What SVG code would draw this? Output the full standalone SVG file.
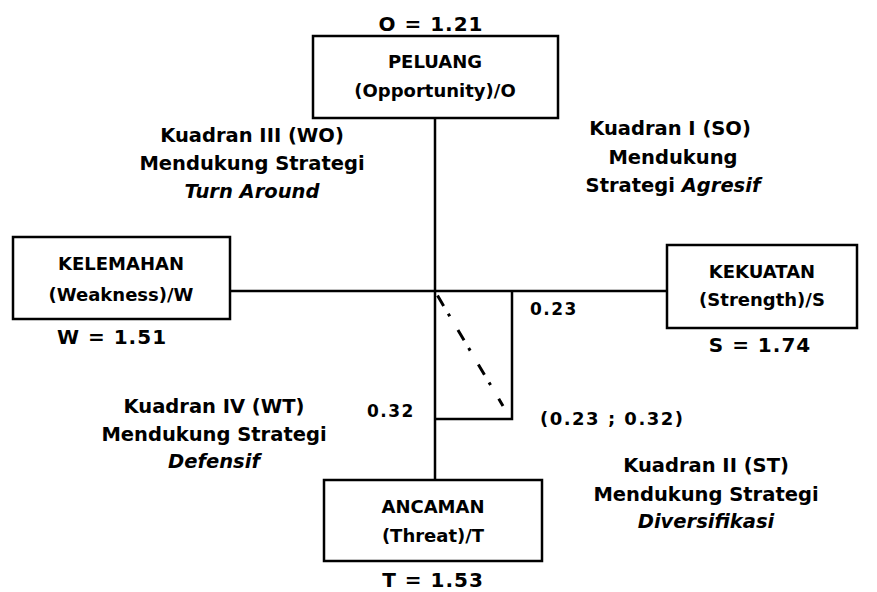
<svg xmlns="http://www.w3.org/2000/svg" width="877" height="592" viewBox="0 0 877 592">
<style>
.box{fill:#fff;stroke:#000;stroke-width:2.5}
.ln{stroke:#000;stroke-width:2.5;fill:none}
.bt{font-family:"DejaVu Sans",sans-serif;font-weight:700;font-size:18px;text-anchor:middle;fill:#000}
.val{font-family:"DejaVu Sans",sans-serif;font-weight:700;font-size:20px;text-anchor:middle;letter-spacing:1px;fill:#000}
.q{font-family:"DejaVu Sans",sans-serif;font-weight:700;font-size:19.5px;text-anchor:middle;fill:#000}
.num{font-family:"DejaVu Sans",sans-serif;font-weight:700;font-size:17px;fill:#000;letter-spacing:1.5px}
.wide{font-size:18px;letter-spacing:1.5px}
.it{font-style:italic}
</style>
<rect width="877" height="592" fill="#fff"/>
<g id="connectors">
<line class="ln" x1="435" y1="118" x2="435" y2="481"/>
<line class="ln" x1="230" y1="291" x2="667" y2="291"/>
<polyline class="ln" points="512,291 512,419 435,419"/>
<line x1="436" y1="293" x2="503" y2="406" stroke="#000" stroke-width="3" stroke-dasharray="12,9,3,16" stroke-dashoffset="37"/>
</g>
<g id="peluang">
<rect class="box" x="313" y="36" width="245" height="82"/>
<text class="bt" x="435" y="68">PELUANG</text>
<text class="bt" x="435" y="97">(Opportunity)/O</text>
<text class="val" x="431" y="31">O = 1.21</text>
</g>
<g id="kelemahan">
<rect class="box" x="13" y="237" width="217" height="82"/>
<text class="bt" x="121" y="270">KELEMAHAN</text>
<text class="bt" x="121" y="301">(Weakness)/W</text>
<text class="val" x="112" y="344">W = 1.51</text>
</g>
<g id="kekuatan">
<rect class="box" x="667" y="245" width="190" height="83"/>
<text class="bt" x="762" y="278">KEKUATAN</text>
<text class="bt" x="762" y="306">(Strength)/S</text>
<text class="val" x="760" y="352">S = 1.74</text>
</g>
<g id="ancaman">
<rect class="box" x="324" y="480" width="218" height="81"/>
<text class="bt" x="433" y="513">ANCAMAN</text>
<text class="bt" x="433" y="542">(Threat)/T</text>
<text class="val" x="433" y="587">T = 1.53</text>
</g>
<g id="labels">
<text class="num" x="530" y="315">0.23</text>
<text class="num" x="367" y="417">0.32</text>
<text class="num wide" x="540" y="425">(0.23 ; 0.32)</text>
<text class="q" x="252" y="142">Kuadran III (WO)</text>
<text class="q" x="252" y="170">Mendukung Strategi</text>
<text class="q it" x="252" y="198">Turn Around</text>
<text class="q" x="670" y="135">Kuadran I (SO)</text>
<text class="q" x="673" y="164">Mendukung</text>
<text class="q" x="673" y="192">Strategi <tspan class="it">Agresif</tspan></text>
<text class="q" x="214" y="413">Kuadran IV (WT)</text>
<text class="q" x="214" y="441">Mendukung Strategi</text>
<text class="q it" x="214" y="468">Defensif</text>
<text class="q" x="706" y="472">Kuadran II (ST)</text>
<text class="q" x="706" y="501">Mendukung Strategi</text>
<text class="q it" x="706" y="528">Diversifikasi</text>
</g>
</svg>
